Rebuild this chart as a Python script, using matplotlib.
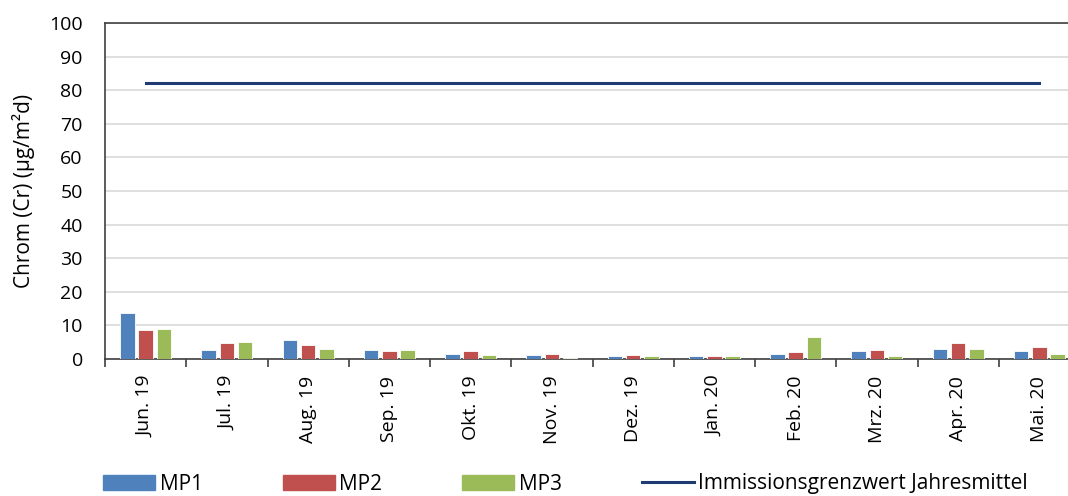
import matplotlib.pyplot as plt
import numpy as np
from matplotlib.lines import Line2D
from matplotlib.patches import Patch

months = ["Jun. 19", "Jul. 19", "Aug. 19", "Sep. 19", "Okt. 19", "Nov. 19",
          "Dez. 19", "Jan. 20", "Feb. 20", "Mrz. 20", "Apr. 20", "Mai. 20"]
mp1 = [13.6, 2.7, 5.8, 2.7, 1.6, 1.3, 0.8, 0.8, 1.6, 2.4, 3.1, 2.4]
mp2 = [8.6, 4.8, 4.3, 2.4, 2.4, 1.6, 1.3, 0.8, 2.0, 2.8, 4.8, 3.5]
mp3 = [8.9, 5.0, 3.1, 2.7, 1.3, 0.4, 0.8, 0.8, 6.6, 0.8, 3.1, 1.6]
grenzwert = 82

plt.rcParams['font.family'] = ['Open Sans', 'DejaVu Sans']

fig = plt.figure(figsize=(10.68, 4.96), dpi=100)
# plot area continues past the right edge, like the cropped original
ax = fig.add_axes([105 / 1068, 1 - 359 / 496, 975 / 1068, 336 / 496])

x = np.arange(len(months))
w = 0.18
off = 0.225
colors = ['#4F81BD', '#C0504D', '#9BBB59']
for i, (vals, c) in enumerate(zip([mp1, mp2, mp3], colors)):
    ax.bar(x + (i - 1) * off, vals, width=w, color=c, edgecolor='white',
           linewidth=0.6, zorder=3)

ax.plot([x[0], x[-1]], [grenzwert, grenzwert], color='#1F3B73', lw=2.2, zorder=4)

ax.set_xlim(-0.5, len(months) - 0.5)
ax.set_ylim(0, 100)
ax.set_yticks(range(0, 101, 10))
ax.yaxis.grid(True, color='#D9D9D9', lw=1.2)
ax.set_axisbelow(True)
ax.tick_params(axis='y', length=0, labelsize=14, pad=16)

ax.set_xticks(x)
ax.set_xticklabels(months, rotation=90, fontsize=14)
ax.set_xticks(np.arange(-0.5, len(months)), minor=True)
ax.tick_params(axis='x', which='major', length=0, pad=12)
ax.tick_params(axis='x', which='minor', length=6, width=1.2, color='#404040')

for s in ['left', 'bottom', 'top']:
    ax.spines[s].set_color('#404040')
    ax.spines[s].set_linewidth(1.2)
ax.spines['right'].set_visible(False)

ax.set_ylabel("Chrom (Cr) (µg/m²d)", fontsize=15, labelpad=10)

handles = [Patch(color=colors[0]), Patch(color=colors[1]), Patch(color=colors[2]),
           Line2D([], [], color='#1F3B73', lw=2.2)]
labels = ["MP1", "MP2", "MP3", "Immissionsgrenzwert Jahresmittel"]
fig.legend(handles, labels, loc='center', bbox_to_anchor=(0.5295, 1 - 484 / 496),
           ncol=4, frameon=False, fontsize=15, handlelength=2.5, handleheight=0.7,
           columnspacing=3.85, handletextpad=0.2)

fig.savefig("out.png", dpi=100)
